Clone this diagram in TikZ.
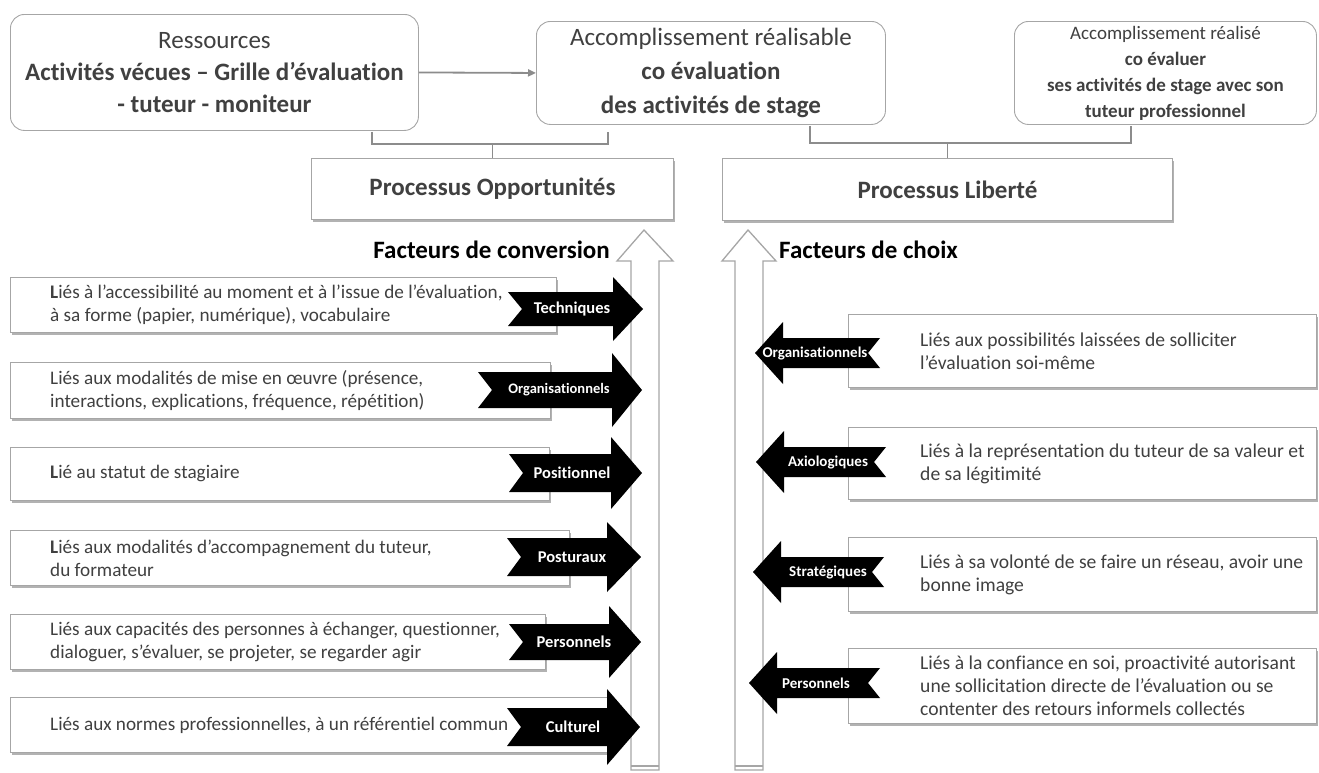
\documentclass[tikz,border=0pt]{standalone}
\usepackage{fontspec}
\setmainfont{Carlito}[Ligatures=NoCommon]
\usetikzlibrary{shadows,calc,arrows.meta}
\definecolor{txt}{HTML}{404040}
\definecolor{bord}{HTML}{A6A6A6}
\definecolor{conn}{HTML}{8C8C8C}
\newcommand{\blkright}[6]{% tail x, cy, body half, head half, head base x, apex x
  \fill[black] (#1,#2-#3) -- (#5,#2-#3) -- (#5,#2-#4) -- (#6,#2) -- (#5,#2+#4) -- (#5,#2+#3) -- (#1,#2+#3) -- (#1+14,#2) -- cycle;}
\newcommand{\blkleft}[6]{% tail x, cy, body half, head half, head base x, apex x
  \fill[black] (#1,#2-#3) -- (#5,#2-#3) -- (#5,#2-#4) -- (#6,#2) -- (#5,#2+#4) -- (#5,#2+#3) -- (#1,#2+#3) -- (#1-12,#2) -- cycle;}
\begin{document}
\begin{tikzpicture}[x=1pt,y=-1pt,
  topbox/.style={draw=bord, line width=0.9pt, rounded corners=14pt, fill=white, align=center, text=txt, inner sep=0, anchor=north west},
  shadowed/.style={drop shadow={shadow xshift=2pt, shadow yshift=-3pt, opacity=0.3, fill=black}},
  procbox/.style={draw=bord, line width=0.9pt, fill=white, shadowed, text=txt, font=\fontsize{25}{30}\selectfont\bfseries, inner sep=0, anchor=north west},
  factbox/.style={draw=bord, line width=0.9pt, fill=white, shadowed, inner sep=0, anchor=north west},
  facttext/.style={anchor=west, align=left, text=txt, font=\fontsize{19.2}{23}\selectfont, inner sep=0},
  facttextr/.style={facttext, font=\fontsize{19.6}{23}\selectfont},
  arrlabel/.style={text=white, inner sep=0, font=\fontsize{16.5}{18}\selectfont\bfseries},
  rlabel/.style={text=white, inner sep=0, font=\fontsize{15}{18}\selectfont\bfseries},
  hollow/.style={draw=bord, line width=1.3pt, fill=white},
  bracket/.style={draw=conn, line width=1.6pt},
  heading/.style={text=black, inner sep=0, font=\fontsize{25}{30}\selectfont\bfseries},
]
\useasboundingbox (0,0) rectangle (1319,772);

% top boxes
\node[topbox, minimum width=408, minimum height=116, font=\fontsize{25}{32}\selectfont] (ress) at (10,14)
  {Ressources\\\textbf{Activités vécues – Grille d’évaluation}\\\textbf{- tuteur - moniteur}};
\node[topbox, minimum width=349, minimum height=103, font=\fontsize{25}{34}\selectfont] (acc1) at (536,21)
  {Accomplissement réalisable\\\textbf{co évaluation}\\\textbf{des activités de stage}};
\node[topbox, minimum width=302, minimum height=103, font=\fontsize{19}{26}\selectfont] (acc2) at (1014,21)
  {Accomplissement réalisé\\\textbf{co évaluer}\\\textbf{ses activités de stage avec son}\\\textbf{tuteur professionnel}};

% process boxes
\node[procbox, minimum width=362, minimum height=61] (po) at (311,158) {Processus Opportunités};
\node[procbox, minimum width=450, minimum height=62] (pl) at (722,158) {Processus Liberté};

% connectors
\draw[conn, line width=1.8pt, -{Triangle[length=8pt,width=7pt]}] (ress.east) -- (acc1.west);
\coordinate (b1a) at ($(ress.south west)+(362,1)$);
\coordinate (b1b) at ($(acc1.south west)+(72,7)$);
\draw[bracket] (b1a) -- ++(0,12) -| (b1b);
\draw[bracket] (po.north) -- ++(0,-15);
\coordinate (b2a) at ($(acc1.south west)+(274,1)$);
\coordinate (b2b) at ($(acc2.south west)+(117,1)$);
\draw[bracket] (b2a) -- ++(0,17) -| (b2b);
\draw[bracket] (pl.north) -- ++(0,-16);

% hollow up arrows
\draw[hollow] (631,770) -- (631,261) -- (617,261) -- (644,230) -- (673,261) -- (659,261) -- (659,770) -- cycle;
\draw[bord, line width=1.3pt] (631,766) -- (659,766);
\draw[hollow] (735,770) -- (735,261) -- (722,261) -- (748,230) -- (776,261) -- (763,261) -- (763,770) -- cycle;
\draw[bord, line width=1.3pt] (735,766) -- (763,766);

% headings
\node[heading, anchor=east] (fc) at (610,250) {Facteurs de conversion};
\node[heading, anchor=west] (fch) at (779,250) {Facteurs de choix};

% left factor boxes
\node[factbox, minimum width=546, minimum height=55] (l1) at (10,277) {};
\node[facttext] (t1) at ($(l1.west)+(40,0)$) {\textbf{L}iés à l’accessibilité au moment et à l’issue de l’évaluation,\\à sa forme (papier, numérique), vocabulaire};
\node[factbox, minimum width=540, minimum height=56] (l2) at (10,362) {};
\node[facttext] (t2) at ($(l2.west)+(40,0)$) {Liés aux modalités de mise en œuvre (présence,\\interactions, explications, fréquence, répétition)};
\node[factbox, minimum width=539, minimum height=53] (l3) at (10,447) {};
\node[facttext] (t3) at ($(l3.west)+(40,0)$) {\textbf{L}ié au statut de stagiaire};
\node[factbox, minimum width=559, minimum height=55] (l4) at (10,530) {};
\node[facttext] (t4) at ($(l4.west)+(40,0)$) {\textbf{L}iés aux modalités d’accompagnement du tuteur,\\du formateur};
\node[factbox, minimum width=535, minimum height=55] (l5) at (10,614) {};
\node[facttext] (t5) at ($(l5.west)+(40,0)$) {Liés aux capacités des personnes à échanger, questionner,\\dialoguer, s’évaluer, se projeter, se regarder agir};
\node[factbox, minimum width=597, minimum height=55] (l6) at (10,697) {};
\node[facttext] (t6) at ($(l6.west)+(40,0)$) {Liés aux normes professionnelles, à un référentiel commun};

% right factor boxes
\node[factbox, minimum width=468, minimum height=73] (r1) at (848,314) {};
\node[facttextr] (u1) at ($(r1.west)+(72,0)$) {Liés aux possibilités laissées de solliciter\\l’évaluation soi-même};
\node[factbox, minimum width=468, minimum height=72] (r2) at (848,427) {};
\node[facttextr] (u2) at ($(r2.west)+(72,0)$) {Liés à la représentation du tuteur de sa valeur et\\de sa légitimité};
\node[factbox, minimum width=468, minimum height=74] (r3) at (848,537) {};
\node[facttextr] (u3) at ($(r3.west)+(72,0)$) {Liés à sa volonté de se faire un réseau, avoir une\\bonne image};
\node[factbox, minimum width=468, minimum height=75] (r4) at (848,648) {};
\node[facttextr] (u4) at ($(r4.west)+(72,0)$) {Liés à la confiance en soi, proactivité autorisant\\une sollicitation directe de l’évaluation ou se\\contenter des retours informels collectés};

% black arrows, left column (pointing right)
\blkright{508}{309}{17}{32}{613}{643}
\node[arrlabel] (k1) at (572,309) {Techniques};
\blkright{478}{390}{18}{37}{612}{642}
\node[arrlabel, font=\fontsize{14.5}{18}\selectfont\bfseries] (k2) at (559,390) {Organisationnels};
\blkright{509}{473}{19}{36}{611}{642}
\node[arrlabel] (k3) at (572,473) {Positionnel};
\blkright{507}{557}{19}{35}{607}{641}
\node[arrlabel] (k4) at (572,557) {Posturaux};
\blkright{509}{642}{18}{36}{609}{641}
\node[arrlabel] (k5) at (574,642) {Personnels};
\blkright{507}{727}{19}{38}{607}{640}
\node[arrlabel] (k6) at (573,727) {Culturel};

% black arrows, right column (pointing left)
\blkleft{880}{353}{15}{31}{783}{755}
\node[rlabel] (m1) at (815,353) {Organisationnels};
\blkleft{886}{462}{15}{31}{784}{756}
\node[rlabel] (m2) at (828,462) {Axiologiques};
\blkleft{884}{572}{15}{31}{781}{753}
\node[rlabel] (m3) at (828,572) {Stratégiques};
\blkleft{880}{683}{15}{31}{777}{749}
\node[rlabel] (m4) at (816,683) {Personnels};
\end{tikzpicture}
\end{document}
